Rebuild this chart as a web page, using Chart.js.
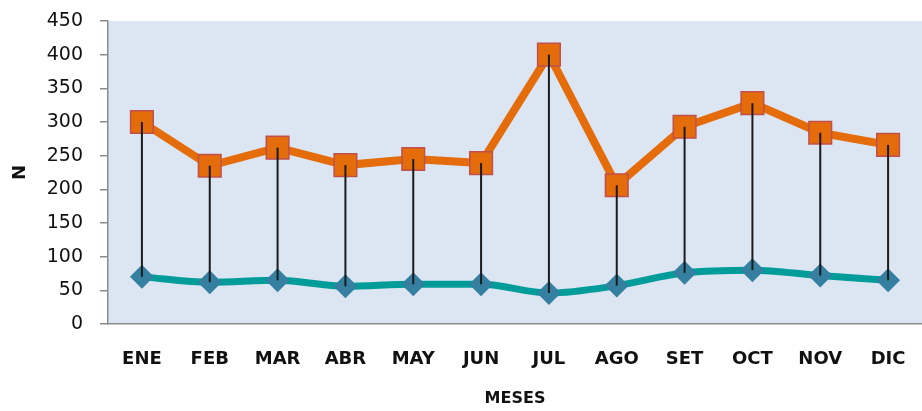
<!DOCTYPE html>
<html>
<head>
<meta charset="utf-8">
<script src="https://cdn.jsdelivr.net/npm/chart.js@4"></script>
<style>
  html, body { margin: 0; padding: 0; background: #fff; }
  #wrap { width: 922px; height: 411px; }
</style>
</head>
<body>
<div id="wrap"><canvas id="myChart" width="922" height="411"></canvas></div>
<script>
const meses = ['ENE', 'FEB', 'MAR', 'ABR', 'MAY', 'JUN', 'JUL', 'AGO', 'SET', 'OCT', 'NOV', 'DIC'];
const serieAlta = [300, 235, 262, 236, 245, 239, 400, 206, 293, 328, 284, 266];
const serieBaja = [70, 62, 65, 56, 59, 59, 46, 57, 76, 80, 72, 65];
const yMin = 0, yMax = 450, yStep = 50;

// fondo del area de trazado
const plotBg = {
  id: 'plotBg',
  beforeDraw(chart) {
    const { ctx, chartArea: a } = chart;
    ctx.save();
    ctx.fillStyle = '#dce6f2';
    ctx.fillRect(a.left, a.top, a.right - a.left, a.bottom - a.top);
    ctx.restore();
  }
};

// lineas verticales entre las dos series
const dropLines = {
  id: 'dropLines',
  afterDatasetsDraw(chart) {
    const top = chart.getDatasetMeta(0).data;
    const low = chart.getDatasetMeta(1).data;
    const ctx = chart.ctx;
    ctx.save();
    ctx.strokeStyle = '#1b1b1b';
    ctx.lineWidth = 2;
    top.forEach((p, i) => {
      const q = low[i];
      if (!q) return;
      ctx.beginPath();
      ctx.moveTo(p.x, p.y);
      ctx.lineTo(q.x, q.y);
      ctx.stroke();
    });
    ctx.restore();
  }
};

const noPad = s => {
  s.paddingTop = 0; s.paddingBottom = 0;
  s.paddingLeft = 0; s.paddingRight = 0;
};

const ctx = document.getElementById('myChart').getContext('2d');
const myChart = new Chart(ctx, {
  type: 'line',
  data: {
    labels: meses,
    datasets: [{
      label: 'Serie 1',
      data: serieAlta,
      borderColor: '#e46c0a',
      borderWidth: 8,
      tension: 0,
      pointStyle: 'rect',
      pointRadius: 16,
      pointBackgroundColor: '#e46c0a',
      pointBorderColor: '#c0504d',
      pointBorderWidth: 1.5
    }, {
      label: 'Serie 2',
      data: serieBaja,
      borderColor: '#009c99',
      borderWidth: 7,
      tension: 0.4,
      cubicInterpolationMode: 'monotone',
      pointStyle: 'rectRot',
      pointRadius: 12,
      pointBackgroundColor: '#357fa0',
      pointBorderColor: '#357fa0',
      pointBorderWidth: 0
    }]
  },
  options: {
    responsive: false,
    animation: false,
    layout: { autoPadding: false, padding: { top: 21, left: 0, right: 0, bottom: 0 } },
    scales: {
      x: {
        offset: true,
        afterFit: s => { s.height = 87; noPad(s); },
        grid: { display: false, drawTicks: false },
        border: { display: true, color: '#8c8c8c', width: 1.5 },
        ticks: {
          padding: 25,
          color: '#111',
          font: { family: 'DejaVu Sans', size: 18, weight: 'bold' }
        },
        title: {
          display: true,
          text: 'MESES',
          color: '#111',
          padding: { top: 0, bottom: 3 },
          font: { family: 'DejaVu Sans', size: 16, weight: 'bold' }
        }
      },
      y: {
        min: yMin,
        max: yMax,
        afterFit: s => { s.width = 108; noPad(s); },
        grid: { drawOnChartArea: false, drawTicks: true, tickLength: 8, color: '#8c8c8c', lineWidth: 1.5 },
        border: { display: true, color: '#8c8c8c', width: 1.5 },
        ticks: {
          stepSize: yStep,
          padding: 17,
          color: '#111',
          font: { family: 'DejaVu Sans', size: 19 }
        },
        title: {
          display: true,
          text: 'N',
          color: '#111',
          padding: { top: 10, bottom: 0 },
          font: { family: 'DejaVu Sans', size: 18, weight: 'bold' }
        }
      }
    },
    plugins: {
      legend: { display: false },
      tooltip: { enabled: false }
    }
  },
  plugins: [plotBg, dropLines]
});
</script>
</body>
</html>
